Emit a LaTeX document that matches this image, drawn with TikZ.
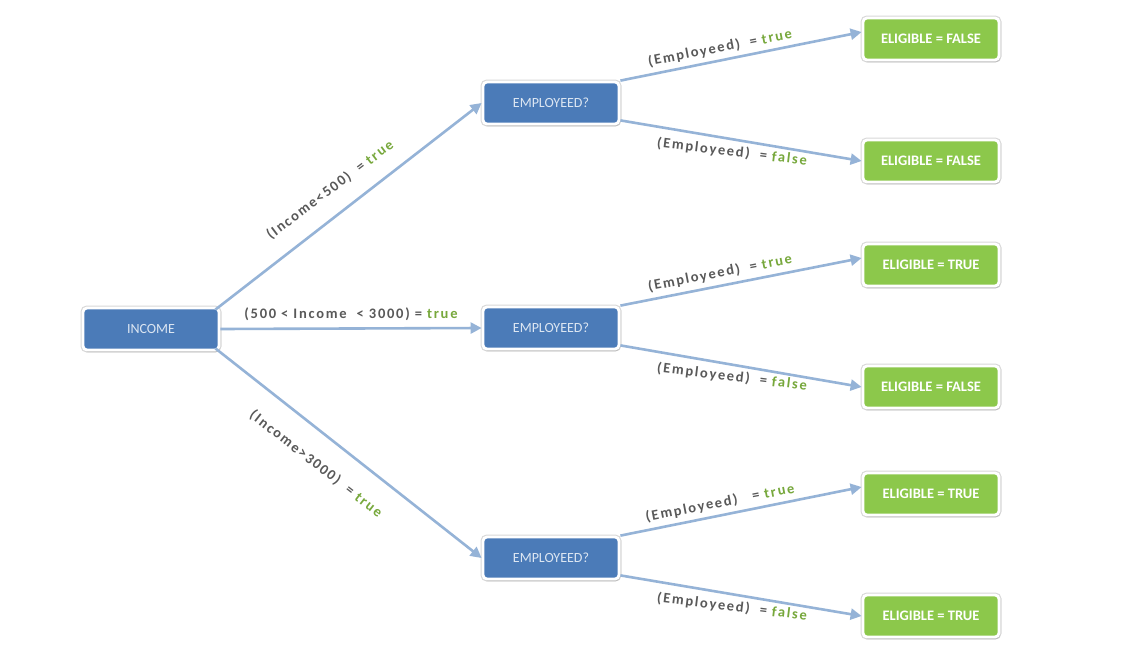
\documentclass[tikz,border=0pt]{standalone}
\usepackage{fontspec}
\setmainfont{Carlito}
\newfontfamily\lblfont[LetterSpace=12]{Carlito}
\usetikzlibrary{shadows,arrows.meta}
\definecolor{boxblue}{HTML}{4B7BB8}
\definecolor{boxgreen}{HTML}{8CC84B}
\definecolor{linkblue}{HTML}{95B3D7}
\definecolor{lblgray}{HTML}{595959}
\definecolor{lblgreen}{HTML}{77A83C}
\definecolor{bluetext}{HTML}{DCE6F2}
\begin{document}
\begin{tikzpicture}[x=1pt,y=-1pt,
  basebox/.style={draw=white, line width=2.8pt, rounded corners=4pt,
    minimum width=136pt, minimum height=42pt, inner sep=0pt,
    general shadow={fill=black!30, draw=black!30, line width=5pt, opacity=0.5},
    drop shadow={opacity=0.3, shadow xshift=1.2pt, shadow yshift=-2.2pt}},
  qbox/.style={basebox, fill=boxblue, text=bluetext, font=\fontsize{14}{16}\selectfont},
  gbox/.style={basebox, fill=boxgreen, text=white, font=\bfseries\fontsize{14.5}{16}\selectfont},
  link/.style={draw=linkblue, line width=2.6pt, -{Triangle[length=11pt,width=11pt]}},
  lbl/.style={text=lblgray, font=\lblfont\bfseries\fontsize{14.5}{16}\selectfont, inner sep=0pt}
]
\useasboundingbox (0,0) rectangle (1136,656);
\fill[white] (0,0) rectangle (1136,656);

\node[qbox] (inc) at (151,329) {INCOME};
\node[qbox] (e1) at (551,103) {EMPLOYEED?};
\node[qbox] (e2) at (551,328) {EMPLOYEED?};
\node[qbox] (e3) at (551,558) {EMPLOYEED?};

\node[gbox] (g1) at (931,39) {ELIGIBLE = FALSE};
\node[gbox] (g2) at (931,161) {ELIGIBLE = FALSE};
\node[gbox] (g3) at (931,265) {ELIGIBLE = TRUE};
\node[gbox] (g4) at (931,387) {ELIGIBLE = FALSE};
\node[gbox] (g5) at (931,494) {ELIGIBLE = TRUE};
\node[gbox] (g6) at (931,616) {ELIGIBLE = TRUE};

\draw[link] ([xshift=-5pt,yshift=-3pt]inc.north east) -- (e1.west);
\draw[link] (inc.east) -- (e2.west);
\draw[link] ([xshift=-5pt,yshift=3pt]inc.south east) -- (e3.west);

\draw[link] (e1.north east) -- ([yshift=7pt]g1.west);
\draw[link] ([yshift=5pt]e1.south east) -- (g2.west);
\draw[link] (e2.north east) -- ([yshift=7pt]g3.west);
\draw[link] ([yshift=5pt]e2.south east) -- (g4.west);
\draw[link] (e3.north east) -- ([yshift=7pt]g5.west);
\draw[link] ([yshift=5pt]e3.south east) -- (g6.west);

\node[lbl, rotate=37] (l1) at (330,190) {(Income<500)\ \ = \textcolor{lblgreen}{true}};
\node[lbl] (l2) at (351,314) {(500 < Income \ < 3000) = \textcolor{lblgreen}{true}};
\node[lbl, rotate=-38] (l3) at (316,464) {(Income>3000)\ \ = \textcolor{lblgreen}{true}};

\node[lbl, rotate=11] (t1) at (720,48) {(Employeed)\ \ = \textcolor{lblgreen}{true}};
\node[lbl, rotate=-7] (f1) at (732,152) {(Employeed)\ \ = \textcolor{lblgreen}{false}};
\node[lbl, rotate=11] (t2) at (720,273) {(Employeed)\ \ = \textcolor{lblgreen}{true}};
\node[lbl, rotate=-7] (f2) at (732,377) {(Employeed)\ \ = \textcolor{lblgreen}{false}};
\node[lbl, rotate=11] (t3) at (720,503) {(Employeed)\ \ \ = \textcolor{lblgreen}{true}};
\node[lbl, rotate=-7] (f3) at (732,607) {(Employeed)\ \ = \textcolor{lblgreen}{false}};
\end{tikzpicture}
\end{document}
